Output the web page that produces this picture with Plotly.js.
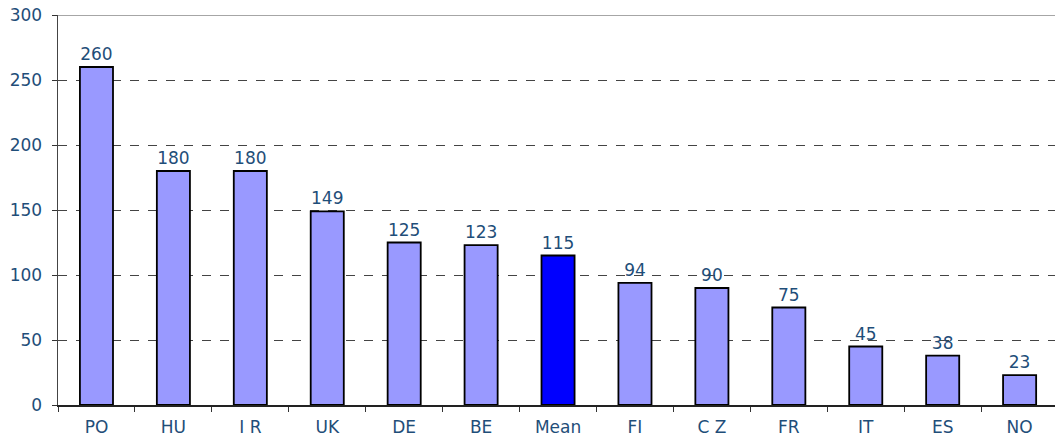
<!DOCTYPE html>
<html><head><meta charset="utf-8">
<script src="https://cdn.plot.ly/plotly-3.0.1.min.js"></script>
<style>body{margin:0;background:#fff}#c{width:1055px;height:442px}</style>
</head><body><div id="c"></div>
<script>
const categories = ["PO","HU","IR","UK","DE","BE","Mean","FI","CZ","FR","IT","ES","NO"];
const values = [260,180,180,149,125,123,115,94,90,75,45,38,23];
const tickLabels = ["PO","HU","I R","UK","DE","BE","Mean","FI","C Z","FR","IT","ES","NO"];
const yTicks = [0,50,100,150,200,250,300];

const colors = categories.map(c => c === "Mean" ? "#0000ff" : "#9999ff");
const navy = "#1f4e79";
const fontSize = 17;

const trace = {
  type: "bar",
  x: categories,
  y: values,
  width: 0.43,
  marker: {color: colors, line: {color: "#000", width: 1.8}},
  text: values.map(String),
  textposition: "outside",
  cliponaxis: false,
  textfont: {family: "DejaVu Sans", size: fontSize, color: navy},
  hoverinfo: "skip"
};

const layout = {
  width: 1055, height: 442,
  margin: {l: 58, r: 0, t: 15, b: 37},
  paper_bgcolor: "#fff", plot_bgcolor: "#fff",
  showlegend: false,
  xaxis: {
    type: "category",
    range: [-0.5, 12.46],
    tickvals: categories, ticktext: tickLabels,
    tickson: "boundaries",
    ticks: "outside", ticklen: 5, tickcolor: "#333", tickwidth: 1,
    ticklabelstandoff: 6,
    showline: true, linecolor: "#222", linewidth: 1.5,
    showgrid: false,
    tickfont: {family: "DejaVu Sans", size: fontSize, color: navy},
    fixedrange: true
  },
  yaxis: {
    range: [0, 300],
    tickvals: yTicks,
    ticks: "outside", ticklen: 5, tickcolor: "#333",
    ticklabelstandoff: 6,
    showline: true, linecolor: "#444", linewidth: 1.5,
    showgrid: true, gridcolor: "#444", griddash: "dash", gridwidth: 1,
    zeroline: false,
    tickfont: {family: "DejaVu Sans", size: fontSize, color: navy},
    fixedrange: true
  },
  shapes: [{type: "line", xref: "paper", yref: "y", x0: 0, x1: 1, y0: 300, y1: 300,
            line: {color: "#888", width: 1.5}}]
};

Plotly.newPlot("c", [trace], layout, {displayModeBar: false, staticPlot: true});
</script></body></html>
